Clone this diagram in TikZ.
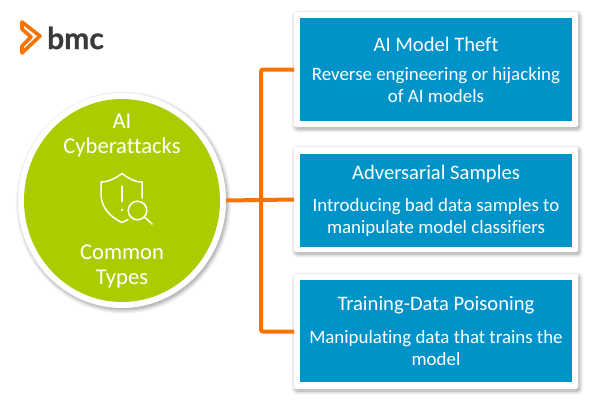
\documentclass[tikz,border=0pt]{standalone}
\usepackage{fontspec}
\setmainfont[RawFeature={-liga;-dlig;-clig}]{Carlito}
\newfontfamily\logofont[FakeBold=0.8]{Lato}
\usetikzlibrary{shapes.geometric,shadows.blur}
\definecolor{cardblue}{HTML}{0093C9}
\definecolor{discgreen}{HTML}{ADCC00}
\definecolor{branchorange}{HTML}{F97300}
\definecolor{logogrey}{HTML}{3A3A3D}
\tikzset{
    softshadow/.style={blur shadow={shadow xshift=1.5pt, shadow yshift=-2pt, shadow blur radius=4pt, shadow blur steps=8, shadow opacity=40}},
    card/.style={draw=none, fill=white, minimum width=284pt, inner sep=0pt, outer sep=0pt, rounded corners=2pt, softshadow},
    panel/.style={draw=none, fill=cardblue, minimum width=272pt, inner sep=0pt},
    heading/.style={text=white, font=\fontsize{20.6}{24}\selectfont, align=center},
    blurb/.style={text=white, font=\fontsize{18.9}{22}\selectfont, align=center},
    disctext/.style={text=white, font=\fontsize{22.6}{25.5}\selectfont, align=center},
    branch/.style={draw=branchorange, line width=4pt},
    glyph/.style={draw=white, line width=1.5pt, line join=round, line cap=round}
}
\begin{document}
\begin{tikzpicture}[x=1pt, y=-1pt]
    \useasboundingbox (0, 0) rectangle (614, 405);
    % cards
    \node[card, minimum height=115pt] (theftcard) at (436, 69.5) {};
    \node[panel, minimum height=103pt] (theftpanel) at (436, 69.5) {};
    \node[card, minimum height=105pt] (samplecard) at (436, 199.5) {};
    \node[panel, minimum height=93pt] (samplepanel) at (436, 200.5) {};
    \node[card, minimum height=115pt] (poisoncard) at (436, 331.5) {};
    \node[panel, minimum height=102pt] (poisonpanel) at (436, 331) {};
    % centre disc
    \node[ellipse, fill=white, minimum width=208pt, minimum height=215pt, inner sep=0pt, outer sep=0pt, softshadow] (ring) at (122, 200.5) {};
    \node[ellipse, fill=discgreen, minimum width=196pt, minimum height=203pt, inner sep=0pt] (disc) at (122, 200.5) {};
    % connectors
    \coordinate (trunk) at (261, 200.5);
    \draw[branch] (ring.east) -- (samplecard.west);
    \draw[branch, rounded corners=2pt] (theftcard.west) -| (trunk);
    \draw[branch, rounded corners=2pt] (poisoncard.west) -| (trunk);
    % labels
    \node[heading] (thefttitle) at (436, 44) {AI Model Theft};
    \node[blurb] (theftnote) at (436, 85) {Reverse engineering or hijacking\\of AI models};
    \node[heading] (sampletitle) at (436, 174) {Adversarial Samples};
    \node[blurb] (samplenote) at (436, 217) {Introducing bad data samples to\\manipulate model classifiers};
    \node[heading] (poisontitle) at (436, 305) {Training-Data Poisoning};
    \node[blurb] (poisonnote) at (436, 348) {Manipulating data that trains the\\model};
    \node[disctext] (disctop) at (122, 135.5) {AI\\Cyberattacks};
    \node[disctext] (discbottom) at (122, 266.5) {Common\\Types};
    % shield icon
    \draw[glyph] (128, 219.5) -- (122, 222.5) .. controls (110, 217) and (101, 207) .. (101, 194) -- (101, 182) .. controls (109, 182) and (116, 178) .. (122, 173.5) .. controls (128, 178) and (134, 182) .. (142, 182) -- (142, 198);
    \draw[glyph] (122, 186) -- (122, 201.5);
    \fill[white] (122, 210) circle (1.3pt);
    \draw[glyph] (137.5, 210.5) circle (9.3pt);
    \draw[glyph] (144.5, 217) -- (152, 224);
    % logo
    \draw[branchorange, line width=3.6pt, line join=round] (22, 22) -- (40, 36) -- (22, 53) -- (22, 46) -- (31, 37) -- (22, 29) -- cycle;
    \node[text=logogrey, font=\logofont\bfseries\fontsize{30}{30}\selectfont, anchor=west, inner sep=0pt] (logotext) at (47, 38) {bmc};
\end{tikzpicture}
\end{document}
